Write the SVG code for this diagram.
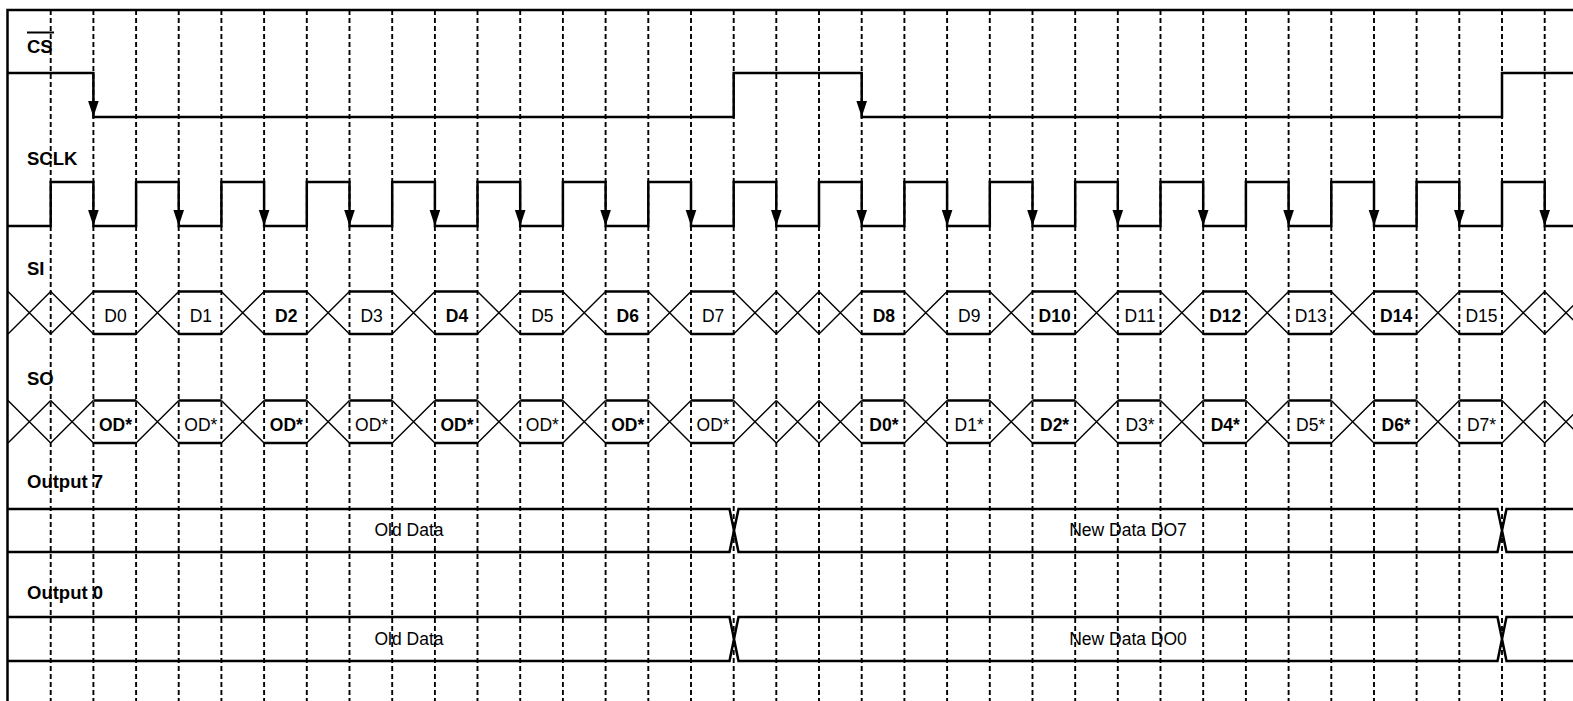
<svg xmlns="http://www.w3.org/2000/svg" xmlns:xlink="http://www.w3.org/1999/xlink" width="1573" height="701" viewBox="0 0 1573 701">
<style>
.bg{fill:#fff}
.frame{fill:none;stroke:#000;stroke-width:2.5}
.grid{stroke:#000;stroke-width:1.9;stroke-dasharray:5 3;fill:none}
.wave{fill:none;stroke:#000;stroke-width:2.5;stroke-linejoin:miter}
.xs{fill:none;stroke:#000;stroke-width:1.4}
.fl{fill:none;stroke:#000;stroke-width:2.6}
.ah{fill:#000;stroke:none}
.sig{font-family:"Liberation Sans",Arial,sans-serif;font-weight:bold;font-size:18.5px;fill:#000}
.lb{font-family:"Liberation Sans",Arial,sans-serif;font-size:17.5px;fill:#000;text-anchor:middle}
.lbb{font-family:"Liberation Sans",Arial,sans-serif;font-size:17.5px;font-weight:bold;fill:#000;text-anchor:middle}
</style>
<defs>
<path id="xcell" d="M0,0 L42.686,42.5 M0,42.5 L42.686,0"/>
<path id="fcell" d="M0,0 H42.686 M0,42.5 H42.686"/>
<path id="arrow" d="M-5.3,-16 L5.3,-16 L0,0 Z"/>
</defs>
<rect class="bg" x="0" y="0" width="1573" height="701"/>
<g id="grid">
<path class="grid" d="M50.7,10V701 M93.4,10V701 M136.1,10V701 M178.7,10V701 M221.4,10V701 M264.1,10V701 M306.8,10V701 M349.5,10V701 M392.2,10V701 M434.9,10V701 M477.5,10V701 M520.2,10V701 M562.9,10V701 M605.6,10V701 M648.3,10V701 M691,10V701 M733.7,10V701 M776.3,10V701 M819,10V701 M861.7,10V701 M904.4,10V701 M947.1,10V701 M989.8,10V701 M1032.5,10V701 M1075.2,10V701 M1117.8,10V701 M1160.5,10V701 M1203.2,10V701 M1245.9,10V701 M1288.6,10V701 M1331.3,10V701 M1374,10V701 M1416.6,10V701 M1459.3,10V701 M1502,10V701 M1544.7,10V701"/>
</g>
<path id="frame" class="frame" d="M7.5,701 V10 H1573"/>
<g id="cs">
<text class="sig" x="27" y="53">CS</text>
<line x1="27" y1="32.5" x2="54" y2="32.5" stroke="#000" stroke-width="2"/>
<path class="wave" d="M8,73 H93.4 V117 H733.7 V73 H861.7 V117 H1502 V73 H1573"/>
<use href="#arrow" class="ah" x="93.4" y="117"/>
<use href="#arrow" class="ah" x="861.7" y="117"/>
</g>
<g id="sclk">
<text class="sig" x="27" y="165">SCLK</text>
<path class="wave" d="M8,226 H50.7 V182 H93.4 V226 H136.1 V182 H178.7 V226 H221.4 V182 H264.1 V226 H306.8 V182 H349.5 V226 H392.2 V182 H434.9 V226 H477.5 V182 H520.2 V226 H562.9 V182 H605.6 V226 H648.3 V182 H691 V226 H733.7 V182 H776.3 V226 H819 V182 H861.7 V226 H904.4 V182 H947.1 V226 H989.8 V182 H1032.5 V226 H1075.2 V182 H1117.8 V226 H1160.5 V182 H1203.2 V226 H1245.9 V182 H1288.6 V226 H1331.3 V182 H1374 V226 H1416.6 V182 H1459.3 V226 H1502 V182 H1544.7 V226 H1573"/>
<g class="ah">
<use href="#arrow" x="93.4" y="226"/><use href="#arrow" x="178.7" y="226"/><use href="#arrow" x="264.1" y="226"/><use href="#arrow" x="349.5" y="226"/><use href="#arrow" x="434.9" y="226"/><use href="#arrow" x="520.2" y="226"/><use href="#arrow" x="605.6" y="226"/><use href="#arrow" x="691" y="226"/><use href="#arrow" x="776.3" y="226"/><use href="#arrow" x="861.7" y="226"/><use href="#arrow" x="947.1" y="226"/><use href="#arrow" x="1032.5" y="226"/><use href="#arrow" x="1117.8" y="226"/><use href="#arrow" x="1203.2" y="226"/><use href="#arrow" x="1288.6" y="226"/><use href="#arrow" x="1374" y="226"/><use href="#arrow" x="1459.3" y="226"/><use href="#arrow" x="1544.7" y="226"/>
</g>
</g>
<g id="si">
<text class="sig" x="27" y="275">SI</text>
<g class="xs">
<use href="#xcell" x="8" y="291.5"/><use href="#xcell" x="50.7" y="291.5"/><use href="#xcell" x="136.1" y="291.5"/><use href="#xcell" x="221.4" y="291.5"/><use href="#xcell" x="306.8" y="291.5"/><use href="#xcell" x="392.2" y="291.5"/><use href="#xcell" x="477.5" y="291.5"/><use href="#xcell" x="562.9" y="291.5"/><use href="#xcell" x="648.3" y="291.5"/><use href="#xcell" x="733.7" y="291.5"/><use href="#xcell" x="776.3" y="291.5"/><use href="#xcell" x="819" y="291.5"/><use href="#xcell" x="904.4" y="291.5"/><use href="#xcell" x="989.8" y="291.5"/><use href="#xcell" x="1075.2" y="291.5"/><use href="#xcell" x="1160.5" y="291.5"/><use href="#xcell" x="1245.9" y="291.5"/><use href="#xcell" x="1331.3" y="291.5"/><use href="#xcell" x="1416.6" y="291.5"/><use href="#xcell" x="1502" y="291.5"/><use href="#xcell" x="1544.7" y="291.5"/>
</g>
<g class="fl">
<use href="#fcell" x="93.4" y="291.5"/><use href="#fcell" x="178.7" y="291.5"/><use href="#fcell" x="264.1" y="291.5"/><use href="#fcell" x="349.5" y="291.5"/><use href="#fcell" x="434.9" y="291.5"/><use href="#fcell" x="520.2" y="291.5"/><use href="#fcell" x="605.6" y="291.5"/><use href="#fcell" x="691" y="291.5"/><use href="#fcell" x="861.7" y="291.5"/><use href="#fcell" x="947.1" y="291.5"/><use href="#fcell" x="1032.5" y="291.5"/><use href="#fcell" x="1117.8" y="291.5"/><use href="#fcell" x="1203.2" y="291.5"/><use href="#fcell" x="1288.6" y="291.5"/><use href="#fcell" x="1374" y="291.5"/><use href="#fcell" x="1459.3" y="291.5"/>
</g>
<text class="lb" x="115.5" y="322">D0</text>
<text class="lb" x="200.9" y="322">D1</text>
<text class="lbb" x="286.3" y="322">D2</text>
<text class="lb" x="371.6" y="322">D3</text>
<text class="lbb" x="457" y="322">D4</text>
<text class="lb" x="542.4" y="322">D5</text>
<text class="lbb" x="627.7" y="322">D6</text>
<text class="lb" x="713.1" y="322">D7</text>
<text class="lbb" x="883.9" y="322">D8</text>
<text class="lb" x="969.2" y="322">D9</text>
<text class="lbb" x="1054.6" y="322">D10</text>
<text class="lb" x="1140" y="322">D11</text>
<text class="lbb" x="1225.3" y="322">D12</text>
<text class="lb" x="1310.7" y="322">D13</text>
<text class="lbb" x="1396.1" y="322">D14</text>
<text class="lb" x="1481.5" y="322">D15</text>
</g>
<g id="so">
<text class="sig" x="27" y="385">SO</text>
<g class="xs">
<use href="#xcell" x="8" y="400.5"/><use href="#xcell" x="50.7" y="400.5"/><use href="#xcell" x="136.1" y="400.5"/><use href="#xcell" x="221.4" y="400.5"/><use href="#xcell" x="306.8" y="400.5"/><use href="#xcell" x="392.2" y="400.5"/><use href="#xcell" x="477.5" y="400.5"/><use href="#xcell" x="562.9" y="400.5"/><use href="#xcell" x="648.3" y="400.5"/><use href="#xcell" x="733.7" y="400.5"/><use href="#xcell" x="776.3" y="400.5"/><use href="#xcell" x="819" y="400.5"/><use href="#xcell" x="904.4" y="400.5"/><use href="#xcell" x="989.8" y="400.5"/><use href="#xcell" x="1075.2" y="400.5"/><use href="#xcell" x="1160.5" y="400.5"/><use href="#xcell" x="1245.9" y="400.5"/><use href="#xcell" x="1331.3" y="400.5"/><use href="#xcell" x="1416.6" y="400.5"/><use href="#xcell" x="1502" y="400.5"/><use href="#xcell" x="1544.7" y="400.5"/>
</g>
<g class="fl">
<use href="#fcell" x="93.4" y="400.5"/><use href="#fcell" x="178.7" y="400.5"/><use href="#fcell" x="264.1" y="400.5"/><use href="#fcell" x="349.5" y="400.5"/><use href="#fcell" x="434.9" y="400.5"/><use href="#fcell" x="520.2" y="400.5"/><use href="#fcell" x="605.6" y="400.5"/><use href="#fcell" x="691" y="400.5"/><use href="#fcell" x="861.7" y="400.5"/><use href="#fcell" x="947.1" y="400.5"/><use href="#fcell" x="1032.5" y="400.5"/><use href="#fcell" x="1117.8" y="400.5"/><use href="#fcell" x="1203.2" y="400.5"/><use href="#fcell" x="1288.6" y="400.5"/><use href="#fcell" x="1374" y="400.5"/><use href="#fcell" x="1459.3" y="400.5"/>
</g>
<text class="lbb" x="115.5" y="431">OD*</text>
<text class="lb" x="200.9" y="431">OD*</text>
<text class="lbb" x="286.3" y="431">OD*</text>
<text class="lb" x="371.6" y="431">OD*</text>
<text class="lbb" x="457" y="431">OD*</text>
<text class="lb" x="542.4" y="431">OD*</text>
<text class="lbb" x="627.7" y="431">OD*</text>
<text class="lb" x="713.1" y="431">OD*</text>
<text class="lbb" x="883.9" y="431">D0*</text>
<text class="lb" x="969.2" y="431">D1*</text>
<text class="lbb" x="1054.6" y="431">D2*</text>
<text class="lb" x="1140" y="431">D3*</text>
<text class="lbb" x="1225.3" y="431">D4*</text>
<text class="lb" x="1310.7" y="431">D5*</text>
<text class="lbb" x="1396.1" y="431">D6*</text>
<text class="lb" x="1481.5" y="431">D7*</text>
</g>
<g id="output7">
<text class="sig" x="27" y="488">Output 7</text>
<path class="wave" d="M8,509 H729.5 L738.5,552 H1497.5 L1506.5,509 H1573 M8,552 H729.5 L738.5,509 H1497.5 L1506.5,552 H1573"/>
<text class="lb" x="409" y="536">Old Data</text>
<text class="lb" x="1128" y="536">New Data DO7</text>
</g>
<g id="output0">
<text class="sig" x="27" y="599">Output 0</text>
<path class="wave" d="M8,617 H729.5 L738.5,661 H1497.5 L1506.5,617 H1573 M8,661 H729.5 L738.5,617 H1497.5 L1506.5,661 H1573"/>
<text class="lb" x="409" y="645">Old Data</text>
<text class="lb" x="1128" y="645">New Data DO0</text>
</g>
</svg>
